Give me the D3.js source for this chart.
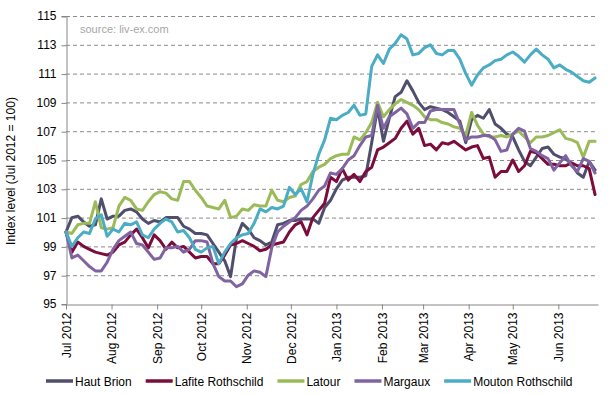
<!DOCTYPE html>
<html>
<head>
<meta charset="utf-8">
<script src="https://cdn.jsdelivr.net/npm/d3@7"></script>
<style>
  body { margin: 0; background: #fff; }
  svg { font-family: "Liberation Sans", Arial, sans-serif; }
</style>
</head>
<body>
<script>
// Liv-ex first growth indices, Jul 2012 = 100 (one reading every 4 days)
const startDate = new Date(2012, 6, 1);
const stepDays = 4;

const hautBrion = [100.0, 101.0, 101.1, 100.7, 100.4, 100.5, 102.3, 100.9, 101.1, 101.1,
  101.5, 101.6, 101.4, 100.9, 100.6, 100.8, 100.7, 101.0, 101.0, 101.0,
  100.4, 100.2, 99.9, 99.9, 99.8, 99.2, 98.6, 98.0, 96.9, 99.6,
  100.6, 100.2, 99.6, 99.4, 99.1, 99.3, 100.5, 100.6, 100.8, 100.8,
  100.9, 100.9, 100.9, 100.6, 101.7, 102.2, 103.0, 103.6, 103.8, 103.8,
  103.8, 103.9, 106.2, 108.6, 106.3, 107.9, 109.4, 109.7, 110.5, 109.8,
  109.0, 108.5, 108.7, 108.6, 108.5, 108.3, 108.0, 107.7, 106.2, 107.8,
  108.1, 107.9, 108.5, 107.5, 107.2, 106.8, 106.6, 105.7, 104.9, 104.6,
  105.2, 105.8, 105.9, 105.4, 105.2, 105.1, 104.7, 104.1, 103.8, 104.9,
  104.3];

const lafite = [100.0, 98.6, 99.3, 99.0, 98.8, 98.6, 98.5, 98.4, 98.6, 99.1,
  99.3, 99.8, 100.2, 99.6, 98.9, 99.8, 99.4, 98.8, 99.3, 98.9,
  99.0, 98.6, 98.2, 98.3, 98.3, 97.8, 97.8, 98.4, 99.1, 99.2,
  99.4, 99.2, 99.0, 98.7, 98.8, 99.1, 99.2, 99.3, 100.0, 100.5,
  100.7, 99.8, 101.0, 101.5, 102.0, 103.8, 103.5, 104.4, 103.6, 104.0,
  103.5, 104.2, 104.5, 105.7, 105.9, 106.2, 106.5, 107.2, 107.7, 106.8,
  107.2, 106.0, 106.1, 105.7, 106.2, 106.1, 106.3, 106.0, 105.7, 105.9,
  106.0, 105.1, 105.2, 103.8, 104.2, 104.2, 105.0, 104.2, 104.6, 105.6,
  105.5, 105.1, 104.7, 104.7, 104.6, 104.6, 104.8, 104.6, 104.6, 104.4,
  102.6];

const latour = [100.0, 99.9, 100.5, 100.6, 100.6, 102.1, 100.3, 100.2, 100.3, 101.8,
  102.4, 102.2, 101.6, 101.5, 102.1, 102.6, 102.8, 102.7, 102.3, 102.2,
  103.5, 103.5, 102.9, 102.4, 101.8, 101.7, 101.6, 102.2, 101.0, 101.1,
  101.6, 101.5, 101.9, 101.8, 101.8, 102.9, 102.2, 102.1, 102.4, 102.5,
  103.3, 103.5, 104.2, 104.5, 104.7, 105.1, 105.3, 105.4, 105.4, 106.6,
  106.4, 106.9, 107.6, 109.0, 108.0, 108.5, 108.9, 109.2, 109.0, 108.8,
  108.5, 108.0, 107.8, 107.8, 107.6, 107.5, 107.3, 107.2, 106.7, 108.3,
  107.4, 106.8, 106.6, 106.6, 106.7, 106.6, 106.8, 107.0, 106.6, 106.2,
  106.6, 106.6, 106.7, 106.9, 107.1, 106.5, 106.4, 106.2, 105.2, 106.3,
  106.3];

const margaux = [100.0, 98.2, 98.4, 98.0, 97.6, 97.3, 97.3, 97.9, 98.8, 99.4,
  99.7, 100.0, 99.2, 99.1, 98.6, 98.1, 98.2, 98.9, 98.9, 99.0,
  98.6, 98.8, 99.4, 99.4, 99.3, 97.8, 96.9, 96.6, 96.6, 96.2,
  96.4, 97.0, 97.3, 97.2, 96.9, 98.9, 100.0, 100.4, 100.7, 101.0,
  101.5, 101.8, 102.3, 102.9, 103.2, 104.1, 104.0, 104.4, 105.0, 105.3,
  106.0, 106.6, 106.7, 108.8, 107.2, 108.0, 108.3, 108.6, 108.2, 107.2,
  107.6, 107.6, 108.4, 108.5, 108.5, 108.5, 108.5, 107.5, 106.4, 106.6,
  106.6, 106.7, 106.7, 106.4, 105.6, 105.7, 106.8, 107.2, 107.0, 105.8,
  105.6, 105.3, 105.1, 104.3, 104.8, 105.3, 104.6, 104.2, 105.1, 104.9,
  104.1];

const mouton = [100.0, 99.0, 99.6, 100.0, 99.9, 100.9, 101.2, 99.7, 100.2, 100.0,
  100.6, 100.5, 100.7, 99.8, 99.6, 100.2, 100.6, 100.9, 100.7, 100.0,
  100.1, 99.6, 98.8, 98.6, 98.9, 99.0, 97.8, 98.6, 99.2, 99.6,
  99.8, 99.9, 100.6, 101.6, 101.4, 101.7, 101.6, 101.8, 103.1, 102.6,
  103.0, 102.1, 104.0, 105.4, 106.4, 107.9, 107.8, 108.1, 108.3, 108.8,
  108.1, 108.2, 111.5, 112.3, 111.7, 112.7, 113.1, 113.7, 113.4, 112.3,
  112.4, 112.8, 113.0, 112.4, 112.3, 112.6, 112.6, 112.0, 111.0, 110.2,
  110.9, 111.4, 111.6, 111.9, 112.0, 112.3, 112.5, 112.2, 111.8, 112.3,
  112.7, 112.3, 112.0, 111.4, 111.6, 111.3, 111.1, 110.8, 110.5, 110.4,
  110.7];

const seriesNames = ["Haut Brion", "Lafite Rothschild", "Latour", "Margaux", "Mouton Rothschild"];
const seriesValues = [hautBrion, lafite, latour, margaux, mouton];
const seriesColors = ["#4f4e6d", "#7c0c3b", "#9bbb59", "#8064a2", "#4bacc6"];

const monthLabels = ["Jul 2012", "Aug 2012", "Sep 2012", "Oct 2012", "Nov 2012", "Dec 2012",
  "Jan 2013", "Feb 2013", "Mar 2013", "Apr 2013", "May 2013", "Jun 2013"];
const yTicks = [95, 97, 99, 101, 103, 105, 107, 109, 111, 113, 115];

const dates = hautBrion.map((_, i) => d3.timeDay.offset(startDate, i * stepDays));
const monthDates = monthLabels.map((_, i) => d3.timeMonth.offset(startDate, i));

const width = 615, height = 396;
const margin = { top: 16, right: 17, bottom: 92, left: 66 };

const svg = d3.select("body").append("svg")
  .attr("width", width)
  .attr("height", height);

const x = d3.scaleTime()
  .domain([startDate, new Date(2013, 5, 28)])
  .range([margin.left, width - margin.right]);

const y = d3.scaleLinear()
  .domain([95, 115])
  .range([height - margin.bottom, margin.top]);

// dashed gridlines
svg.append("g")
  .selectAll("line")
  .data(yTicks.slice(1))
  .join("line")
  .attr("x1", margin.left)
  .attr("x2", width - margin.right)
  .attr("y1", d => y(d) + 0.5)
  .attr("y2", d => y(d) + 0.5)
  .attr("stroke", "#8a8a8a")
  .attr("stroke-dasharray", "4,3");

// y axis
const yAxis = svg.append("g")
  .attr("transform", `translate(${margin.left + 0.5},0)`)
  .call(d3.axisLeft(y).tickValues(yTicks).tickSize(5).tickPadding(5).tickFormat(d3.format("d")));
yAxis.select(".domain").attr("stroke", "#868686");
yAxis.selectAll(".tick line").attr("stroke", "#868686").attr("transform", "translate(0,0.5)");
yAxis.selectAll("text").attr("font-size", 12).attr("fill", "#000")
  .attr("font-family", "'Liberation Sans', Arial, sans-serif");

// x axis
const xAxis = svg.append("g")
  .attr("transform", `translate(0,${height - margin.bottom + 0.5})`)
  .call(d3.axisBottom(x).tickValues(monthDates).tickSize(5).tickSizeOuter(0)
    .tickFormat((d, i) => monthLabels[i]));
xAxis.select(".domain").attr("stroke", "#868686");
xAxis.selectAll(".tick line").attr("stroke", "#868686");
xAxis.selectAll("text")
  .attr("font-size", 12).attr("fill", "#000")
  .attr("font-family", "'Liberation Sans', Arial, sans-serif")
  .attr("text-anchor", "end")
  .attr("transform", "rotate(-90)")
  .attr("x", -8).attr("y", 0).attr("dy", "0.35em");

// y axis title
svg.append("text")
  .attr("transform", "translate(15,171) rotate(-90)")
  .attr("text-anchor", "middle")
  .attr("font-size", 12)
  .text("Index level (Jul 2012 = 100)");

// source note
svg.append("text")
  .attr("x", 80).attr("y", 33)
  .attr("font-size", 11)
  .attr("fill", "#a6a6a6")
  .text("source: liv-ex.com");

// series
const line = d3.line()
  .x((d, i) => x(dates[i]))
  .y(d => y(d));

svg.append("g")
  .selectAll("path")
  .data(seriesValues)
  .join("path")
  .attr("d", line)
  .attr("fill", "none")
  .attr("stroke", (d, i) => seriesColors[i])
  .attr("stroke-width", 3)
  .attr("stroke-linejoin", "round")
  .attr("stroke-linecap", "round");

// legend
const legend = svg.append("g").attr("transform", "translate(46,381)");
let lx = 0;
seriesNames.forEach((name, i) => {
  const g = legend.append("g").attr("transform", `translate(${lx},0)`);
  g.append("line")
    .attr("x1", 0).attr("x2", 27)
    .attr("stroke", seriesColors[i])
    .attr("stroke-width", 3.5);
  const t = g.append("text")
    .attr("x", 29).attr("y", 4.5)
    .attr("font-size", 12)
    .text(name);
  lx += 29 + t.node().getComputedTextLength() + 14;
});
</script>
</body>
</html>
